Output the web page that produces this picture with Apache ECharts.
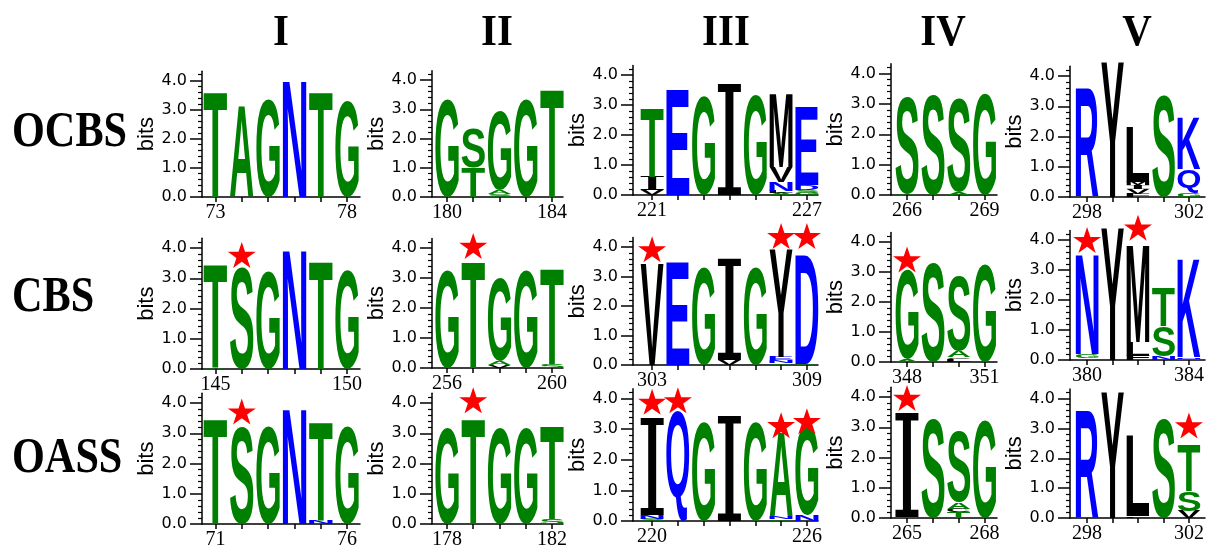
<!DOCTYPE html>
<html><head><meta charset="utf-8">
<script src="https://cdn.jsdelivr.net/npm/echarts@6/dist/echarts.min.js"></script>
<style>html,body{margin:0;padding:0;background:#fff}#c{width:1211px;height:550px}</style>
</head><body><div id="c"></div>
<script>
// ---------- categories / labels ----------
const rowLabels = ['OCBS', 'CBS', 'OASS'];
const colLabels = ['I', 'II', 'III', 'IV', 'V'];
const yTickLabels = [0, 1, 2, 3, 4];

// first residue number of each motif (per row)
const ocbsStart = [73, 180, 221, 266, 298];
const cbsStart  = [145, 256, 303, 348, 380];
const oassStart = [71, 178, 220, 265, 298];

// ---------- logo data: each position is a stack [letter, bits] from bottom to top ----------
const ocbsI   = [[['T',3.6]],[['A',3.1]],[['G',3.33]],[['N',3.97]],[['T',3.6]],[['G',3.3]]];
const ocbsII  = [[['G',3.35]],[['T',1.0],['S',1.34]],[['S',0.1],['A',0.13],['G',2.68]],[['G',3.35]],[['T',3.66]]];
const ocbsIII = [[['V',0.16],['I',0.44],['T',2.28]],[['E',3.5]],[['G',3.28]],[['I',3.7]],[['G',3.33]],
                 [['A',0.07],['L',0.08],['N',0.3],['V',0.5],['M',2.45]],[['G',0.08],['S',0.08],['D',0.16],['E',2.62]]];
const ocbsIV  = [[['A',0.03],['S',3.2]],[['S',3.3]],[['A',0.1],['S',3.1]],[['G',3.34]]];
const ocbsV   = [[['R',3.59]],[['Y',4.45]],[['F',0.11],['V',0.17],['I',0.11],['M',0.11],['L',1.82]],[['S',3.37]],[['G',0.14],['Q',0.78],['K',1.72]]];

const cbsI    = [[['A',0.04],['T',3.41]],[['S',3.34]],[['G',3.23]],[['N',3.91]],[['T',3.54]],[['G',3.28]]];
const cbsII   = [[['G',3.26]],[['T',3.51]],[['V',0.1],['A',0.14],['G',2.76]],[['G',3.26]],[['S',0.12],['T',3.19]]];
const cbsIII  = [[['V',3.44]],[['E',3.49]],[['G',3.32]],[['V',0.17],['I',3.43]],[['G',3.32]],
                 [['G',0.06],['N',0.1],['E',0.12],['Y',3.66]],[['G',0.04],['D',3.68]]];
const cbsIV   = [[['A',0.08],['G',2.98]],[['S',3.28]],[['L',0.1],['C',0.06],['A',0.22],['S',2.52]],[['G',3.25]]];
const cbsV    = [[['S',0.05],['G',0.15],['N',3.32]],[['Y',4.4]],[['F',0.15],['L',0.45],['M',3.23]],
                 [['N',0.12],['S',1.0],['T',1.27]],[['G',0.05],['N',0.05],['K',3.26]]];

const oassI   = [[['T',3.47]],[['S',3.23]],[['G',3.23]],[['N',3.8]],[['N',0.12],['T',3.24]],[['G',3.23]]];
const oassII  = [[['G',3.17]],[['T',3.47]],[['G',3.17]],[['G',3.19]],[['S',0.18],['T',3.08]]];
const oassIII = [[['S',0.07],['N',0.12],['I',3.21]],[['Q',3.57]],[['G',3.24]],[['I',3.46]],[['G',3.24]],
                 [['G',0.06],['N',0.08],['A',2.72]],[['N',0.2],['G',2.93]]];
const oassIV  = [[['S',0.04],['I',3.46]],[['S',3.28]],[['T',0.2],['C',0.11],['A',0.22],['S',2.34]],[['G',3.23]]];
const oassV   = [[['R',3.6]],[['Y',4.22]],[['F',0.06],['L',2.71]],[['S',3.33]],[['V',0.24],['S',0.65],['T',1.55]]];

// starred positions: [motif index, residue, bits height of star]
const cbsStars  = [[0,146,3.77],[1,257,4.07],[2,303,3.92],[2,308,4.37],[2,309,4.37],[3,348,3.42],[4,380,4.0],[4,382,4.41]];
const oassStars = [[0,72,3.72],[1,179,4.09],[2,220,3.89],[2,221,3.94],[2,225,3.13],[2,226,3.26],[3,265,3.97],[4,302,3.1]];

// ---------- layout (pixels) ----------
const colAxisX = [202, 432, 633, 891, 1070];
const colRightX = [360, 563, 818, 997, 1205];
const colPadL = [0.51, 0.57, 0.74, 0.62, 0.67];
const colPadR = [0.49, 0.42, 0.43, 0.48, 0.63];
const zeroY = [[197,197,195,195,197],[369,368,365,362,360],[524,524,521,518,518]];
const fourY = [[80.5,80,75,73.5,76],[248,248,247,242,240],[403,403,398.5,397,398.5]];
const titleX = [281, 497, 726, 943, 1137];
const rowLabelY = [133, 298, 459];
const YMAX = 4.32;

const panelData = [[ocbsI,ocbsII,ocbsIII,ocbsIV,ocbsV],[cbsI,cbsII,cbsIII,cbsIV,cbsV],[oassI,oassII,oassIII,oassIV,oassV]];
const panelStart = [ocbsStart, cbsStart, oassStart];
const rowStars = [[], cbsStars, oassStars];

const GREEN = '#008000', BLUE = '#0000ff', BLACK = '#000000';
function letterColor(L) {
  if ('AGST'.indexOf(L) >= 0) return GREEN;
  if ('NEDQKRH'.indexOf(L) >= 0) return BLUE;
  return BLACK;
}
function letterFamily(L) { return L === 'I' ? 'DejaVu Serif' : 'Liberation Sans'; }
function letterWeight(L) { return L === 'I' ? 'normal' : 'bold'; }

const mctx = document.createElement('canvas').getContext('2d');
const mcache = {};
function metrics(L) {
  if (mcache[L]) return mcache[L];
  mctx.font = letterWeight(L) + ' 200px ' + letterFamily(L);
  mctx.textAlign = 'center';
  mctx.textBaseline = 'middle';
  const m = mctx.measureText(L);
  return (mcache[L] = {l: m.actualBoundingBoxLeft, r: m.actualBoundingBoxRight,
                        a: m.actualBoundingBoxAscent, d: m.actualBoundingBoxDescent});
}

function makeRender(items) {
  return function (params, api) {
    const it = items[params.dataIndex];
    const p0 = api.coord([it.pos - 0.445, it.y1]);
    const p1 = api.coord([it.pos + 0.445, it.y0]);
    const W = p1[0] - p0[0], H = p1[1] - p0[1];
    if (H < 0.4 || W <= 0) return null;
    const m = metrics(it.L);
    const sx = W / (m.l + m.r), sy = H / (m.a + m.d);
    return {
      type: 'text', silent: true,
      x: p0[0] + m.l * sx, y: p0[1] + m.a * sy, scaleX: sx, scaleY: sy,
      style: {text: it.L, x: 0, y: 0, fill: letterColor(it.L),
              fontSize: 200, fontWeight: letterWeight(it.L), fontFamily: letterFamily(it.L),
              align: 'center', verticalAlign: 'middle', textAlign: 'center', textVerticalAlign: 'middle'}
    };
  };
}

const STAR = 'path://M50,0 L61.2,34.5 L97.6,34.5 L68.2,55.9 L79.4,90.5 L50,69.1 L20.6,90.5 L31.8,55.9 L2.4,34.5 L38.8,34.5 Z';
const minorVals = [];
for (let v = 0.2; v < 4.3; v += 0.2) { const t = Math.round(v * 10) / 10; if (t % 1 !== 0) minorVals.push(t); }

const grids = [], xAxes = [], yAxes = [], series = [];
const lineStyle = {color: '#000', width: 1.5};
for (let r = 0; r < 3; r++) {
  for (let c = 0; c < 5; c++) {
    const k = r * 5 + c;
    const cols = panelData[r][c];
    const start = panelStart[r][c];
    const last = start + cols.length - 1;
    const ppb = (zeroY[r][c] - fourY[r][c]) / 4;
    grids.push({left: colAxisX[c], width: colRightX[c] - colAxisX[c],
                top: zeroY[r][c] - YMAX * ppb, height: YMAX * ppb});
    const positions = cols.map((_, j) => start + j);
    xAxes.push({gridIndex: k, type: 'value', min: start - colPadL[c], max: last + colPadR[c],
      axisLine: {show: true, lineStyle: lineStyle},
      axisTick: {show: true, customValues: positions, length: 5, lineStyle: lineStyle},
      axisLabel: {show: true, customValues: [start, last], fontFamily: 'Liberation Serif', fontSize: 20, color: '#000', margin: 6},
      splitLine: {show: false}});
    yAxes.push({gridIndex: k, type: 'value', min: 0, max: YMAX, position: 'left', offset: 0,
      axisLine: {show: true, lineStyle: lineStyle},
      axisTick: {show: true, customValues: yTickLabels, length: 12, lineStyle: lineStyle},
      axisLabel: {show: true, customValues: yTickLabels, formatter: v => Number(v).toFixed(1),
                  fontFamily: 'DejaVu Sans', fontSize: 16, color: '#000', margin: 15},
      splitLine: {show: false},
      name: 'bits', nameLocation: 'middle', nameGap: 35,
      nameTextStyle: {fontFamily: 'Liberation Sans', fontSize: 22, color: '#000'}});
    yAxes.push({gridIndex: k, type: 'value', min: 0, max: YMAX, position: 'left', offset: 0,
      axisLine: {show: false},
      axisTick: {show: true, customValues: minorVals, length: 4, lineStyle: {color: '#000', width: 1.2}},
      axisLabel: {show: false}, splitLine: {show: false}});
    const items = [];
    cols.forEach((stack, j) => {
      let y = 0;
      stack.forEach(([L, h]) => { items.push({pos: start + j, y0: y, y1: y + h, L: L}); y += h; });
    });
    series.push({type: 'custom', coordinateSystem: 'cartesian2d', xAxisIndex: k, yAxisIndex: 2 * k,
      clip: false, silent: true, animation: false,
      data: items.map(it => [it.pos, it.y0, it.y1]), encode: {x: 0, y: [1, 2]},
      renderItem: makeRender(items)});
    const stars = rowStars[r].filter(s => s[0] === c).map(s => [s[1], s[2]]);
    if (stars.length) {
      series.push({type: 'scatter', xAxisIndex: k, yAxisIndex: 2 * k, clip: false, silent: true, animation: false,
        symbol: STAR, symbolSize: [28, 26], itemStyle: {color: '#ff0000', opacity: 1}, z: 5, data: stars});
    }
  }
}

const graphics = [];
colLabels.forEach((t, i) => graphics.push({type: 'text', x: titleX[i], y: 33, scaleX: 0.91, scaleY: 1, silent: true,
  style: {text: t, fill: '#000', fontSize: 45, fontWeight: 'bold', fontFamily: 'Liberation Serif',
          align: 'center', verticalAlign: 'middle', textAlign: 'center', textVerticalAlign: 'middle'}}));
rowLabels.forEach((t, i) => graphics.push({type: 'text', x: 12, y: rowLabelY[i], scaleX: 0.845, scaleY: 1, silent: true,
  style: {text: t, fill: '#000', fontSize: 50, fontWeight: 'bold', fontFamily: 'Liberation Serif',
          align: 'left', verticalAlign: 'middle', textAlign: 'left', textVerticalAlign: 'middle'}}));

const chart = echarts.init(document.getElementById('c'), null, {renderer: 'canvas'});
chart.setOption({
  backgroundColor: '#fff', animation: false,
  grid: grids, xAxis: xAxes, yAxis: yAxes, series: series, graphic: graphics
});
</script></body></html>
